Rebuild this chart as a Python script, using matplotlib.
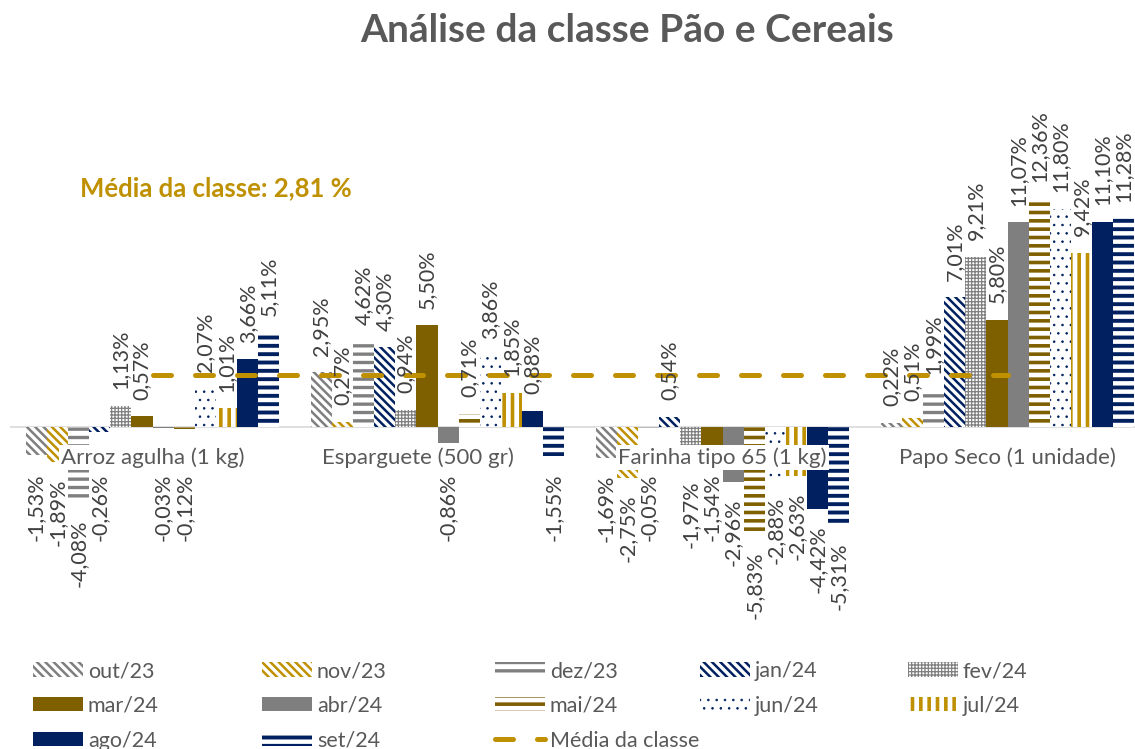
import numpy as np
import matplotlib
matplotlib.use("Agg")
import matplotlib.pyplot as plt

plt.rcParams['font.family'] = ['Lato', 'DejaVu Sans']

categorias = ["Arroz agulha (1 kg)", "Esparguete (500 gr)",
              "Farinha tipo 65 (1 kg)", "Papo Seco (1 unidade)"]
meses = ["out/23", "nov/23", "dez/23", "jan/24", "fev/24", "mar/24",
         "abr/24", "mai/24", "jun/24", "jul/24", "ago/24", "set/24"]

# variação (%) por produto: Arroz, Esparguete, Farinha, Papo Seco
out23 = [-1.53, 2.95, -1.69, 0.22]
nov23 = [-1.89, 0.27, -2.75, 0.51]
dez23 = [-4.08, 4.62, -0.05, 1.99]
jan24 = [-0.26, 4.30, 0.54, 7.01]
fev24 = [1.13, 0.94, -1.97, 9.21]
mar24 = [0.57, 5.50, -1.54, 5.80]
abr24 = [-0.03, -0.86, -2.96, 11.07]
mai24 = [-0.12, 0.71, -5.83, 12.36]
jun24 = [2.07, 3.86, -2.88, 11.80]
jul24 = [1.01, 1.85, -2.63, 9.42]
ago24 = [3.66, 0.88, -4.42, 11.10]
set24 = [5.11, -1.55, -5.31, 11.28]
media_classe = 2.81

series = [out23, nov23, dez23, jan24, fev24, mar24,
          abr24, mai24, jun24, jul24, ago24, set24]

CINZA = '#7F7F7F'
OURO = '#BF9000'
AZUL = '#002060'
CASTANHO = '#7F6000'
TEXTO = '#595959'

DIAG = '\\' * 4

# (cor de fundo, cor do padrão, padrão, espessura do padrão)
estilos = [
    ('white', CINZA, DIAG, 1.8),
    ('white', OURO, DIAG, 1.8),
    ('white', CINZA, '--', 2.4),
    ('white', AZUL, DIAG, 1.8),
    ('white', CINZA, '+++++', 0.9),
    (CASTANHO, CASTANHO, None, 1.0),
    (CINZA, CINZA, None, 1.0),
    ('white', CASTANHO, '--', 2.6),
    ('white', AZUL, '..', 0.6),
    ('white', OURO, '||', 2.6),
    (AZUL, AZUL, None, 1.0),
    ('white', AZUL, '--', 2.8),
]

W, H = 1135, 749
fig = plt.figure(figsize=(W / 100, H / 100), dpi=100)
ax = fig.add_axes([10 / W, 1 - 560 / H, 1140 / W, 460 / H])

x = np.arange(len(categorias))
n = len(series)
larg = 0.891 / n

barras = []
for j, (vals, (fc, ec, hatch, hlw)) in enumerate(zip(series, estilos)):
    pos = x + (j - (n - 1) / 2) * larg
    with plt.rc_context({'hatch.linewidth': hlw}):
        b = ax.bar(pos, vals, larg, color=fc, edgecolor=ec, linewidth=0,
                   hatch=hatch, label=meses[j], zorder=2)
    for p in b.patches:
        if hasattr(p, 'set_hatch_linewidth'):
            p.set_hatch_linewidth(hlw)
    barras.append(b)

    for xi, v in zip(pos, vals):
        txt = f"{v:.2f}%".replace('.', ',')
        if v >= 0:
            ax.annotate(txt, (xi, v), xytext=(0, 12), textcoords='offset points',
                        rotation=90, ha='center', va='bottom', fontsize=15.5,
                        color='#404040', zorder=6, annotation_clip=False)
        else:
            ax.annotate(txt, (xi, min(v, -1.6)), xytext=(0, -12),
                        textcoords='offset points', rotation=90, ha='center',
                        va='top', fontsize=15.5, color='#404040', zorder=6,
                        annotation_clip=False)

linha, = ax.plot(x, [media_classe] * len(x), color=OURO, lw=3.6,
                 linestyle=(0, (3.6, 4.8)), dash_capstyle='round', zorder=4,
                 label='Média da classe')

ax.axhline(0, color='#D9D9D9', lw=1.2, zorder=1)

desloc = [0, -14, 0, 0]
for xi, nome, d in zip(x, categorias, desloc):
    ax.annotate(nome, (xi, 0), xytext=(d, -22), textcoords='offset points',
                ha='center', va='center', fontsize=16, color=TEXTO, zorder=5,
                bbox=dict(boxstyle='square,pad=0.1', fc='white', ec='none'))

ax.set_xlim(-0.5, 3.5)
ax.set_ylim(-(560 - 427) / 18.5, (427 - 100) / 18.5)
ax.axis('off')

fig.text(627 / W, 1 - 30 / H, "Análise da classe Pão e Cereais", ha='center',
         va='center', fontsize=28, fontweight='bold', color=TEXTO)
fig.text(80 / W, 1 - 188 / H, f"Média da classe: {media_classe:.2f} %".replace('.', ','),
         ha='left', va='center', fontsize=18.5, fontweight='bold', color=OURO)

# legenda em 5 colunas, preenchida por linhas como no Excel
handles = barras + [linha]
rotulos = meses + ['Média da classe']
hlws = [e[3] for e in estilos] + [None]
colunas = [[0, 5, 10], [1, 6, 11], [2, 7, 12], [3, 8], [4, 9]]
xs_col = [33, 262, 495, 700, 908]
for col, xp in zip(colunas, xs_col):
    leg = fig.legend([handles[i] for i in col], [rotulos[i] for i in col],
                     loc='upper left', bbox_to_anchor=(xp / W, 1 - 661 / H),
                     frameon=False, fontsize=15.5, handlelength=2.3,
                     handleheight=0.65, handletextpad=0.25, labelspacing=0.69,
                     borderpad=0, borderaxespad=0)
    for t in leg.get_texts():
        t.set_color(TEXTO)
    patches = leg.get_patches()
    k = 0
    for i in col:
        if i < len(barras):
            if hasattr(patches[k], 'set_hatch_linewidth'):
                patches[k].set_hatch_linewidth(hlws[i])
            k += 1

fig.savefig("out.png", dpi=100)
